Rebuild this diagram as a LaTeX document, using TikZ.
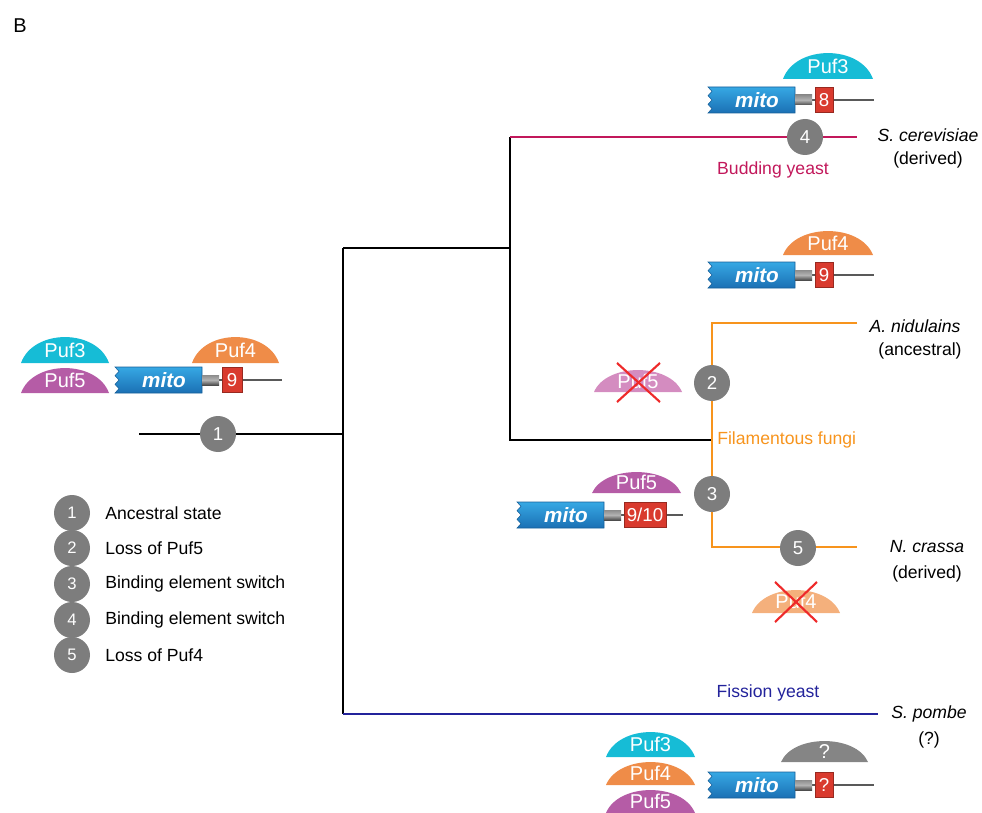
\documentclass[tikz,border=0pt]{standalone}
\usepackage{fontspec}
\setmainfont{Liberation Sans}
\definecolor{cyancap}{HTML}{16BCD6}
\definecolor{orangecap}{HTML}{EF8C48}
\definecolor{purplecap}{HTML}{B55CA6}
\definecolor{lightpurple}{HTML}{D48CC0}
\definecolor{lightorange}{HTML}{F4B07C}
\definecolor{graycap}{HTML}{858585}
\definecolor{circgray}{HTML}{7D7D7D}
\definecolor{mitotop}{HTML}{36A8E4}
\definecolor{mitobot}{HTML}{1B70B4}
\definecolor{redbox}{HTML}{D93A2E}
\definecolor{crimson}{HTML}{C2185B}
\definecolor{forange}{HTML}{F7941D}
\definecolor{navy}{HTML}{23239B}
\definecolor{xred}{HTML}{EE2A2A}
\tikzset{
  tree/.style={line width=1.6pt},
  geneline/.style={line width=1pt, color=black!65},
  numc/.style={circle, fill=circgray, text=white, minimum size=27pt, inner sep=0pt, font=\fontsize{14}{16}\selectfont},
  legc/.style={circle, fill=circgray, text=white, minimum size=27pt, inner sep=0pt, font=\fontsize{12.5}{14}\selectfont},
  lbl/.style={inner sep=0pt, font=\fontsize{13.2}{15}\selectfont},
  captext/.style={inner sep=0pt, text=white, font=\fontsize{15}{17}\selectfont},
  mitotext/.style={inner sep=0pt, text=white, font=\fontsize{15.5}{17}\selectfont\bfseries\itshape},
  redbox/.style={fill=redbox, draw=redbox!70!black, line width=0.4pt, text=white, minimum height=18.75pt, inner sep=0pt, font=\fontsize{14}{16}\selectfont},
  xline/.style={color=xred, line width=1.6pt}
}
\newcommand{\mitoG}[5]{%
  \draw[geneline] ({#1+100},#2) -- (#5,#2);
  \shade[top color=mitotop, bottom color=mitobot, draw=mitobot!85!black, line width=0.4pt]
    (#1,{#2-13}) -- ({#1+87},{#2-13}) -- ({#1+87},{#2+13}) -- (#1,{#2+13})
    -- ({#1+4},{#2+8.67}) -- (#1,{#2+4.33}) -- ({#1+4},#2) -- (#1,{#2-4.33})
    -- ({#1+4},{#2-8.67}) -- cycle;
  \node[mitotext] at ({#1+49},#2) {mito};
  \shade[top color=black!45, bottom color=black!70, middle color=black!30]
    ({#1+87},{#2-5}) rectangle ({#1+104},{#2+5});
  \node[redbox, minimum width={#3*0.75pt}] at ({#1+107+#3/2},#2) {#4};
}
\newcommand{\pufcap}[6]{%
  \fill[#5] (#1,#3) .. controls ({#1+0.14*(#2-#1)},{#3-1.33*#4}) and ({#2-0.14*(#2-#1)},{#3-1.33*#4}) .. (#2,#3) -- cycle;
  \node[captext] at ({(#1+#2)/2},{#3-0.5*#4}) {#6};
}
\begin{document}
\begin{tikzpicture}[x=0.75pt,y=-0.75pt]
\useasboundingbox (0,0) rectangle (982,813);
\node[lbl, font=\fontsize{15}{17}\selectfont] (B) at (20,26) {B};

% tree coordinates
\coordinate (r0) at (139,434);
\coordinate (r1) at (343,434);
\coordinate (rt) at (343,248);
\coordinate (rb) at (343,714);
\coordinate (a1) at (510,248);
\coordinate (a2) at (510,137);
\coordinate (a3) at (510,440);
\coordinate (be) at (857,137);
\coordinate (f1) at (712,440);
\coordinate (f2) at (712,323);
\coordinate (f3) at (712,547);
\coordinate (f4) at (857,323);
\coordinate (f5) at (857,547);
\coordinate (se) at (878,714);

\draw[tree] (r0) -- (r1);
\draw[tree] (rt) -- (rb);
\draw[tree] (rt) -- (a1);
\draw[tree] (a2) -- (a3) -- (f1);
\draw[tree, crimson] (a2) -- (be);
\draw[tree, forange] (f4) -- (f2) -- (f3) -- (f5);
\draw[tree, navy] (rb) -- (se);

% event circles
\node[numc] (c1) at (218,434) {1};
\node[numc] (c4) at (805,137) {4};
\node[numc] (c2) at (712,383) {2};
\node[numc] (c3) at (712,494) {3};
\node[numc] (c5) at (798,548) {5};

% branch labels
\node[lbl, text=crimson] (bud) at (773,170) {Budding yeast};
\node[lbl, text=forange, anchor=west] (fil) at (717,440) {Filamentous fungi};
\node[lbl, text=navy] (fis) at (768,693) {Fission yeast};

% species labels
\node[lbl] (sc1) at (928,135) {\itshape S. cerevisiae};
\node[lbl] (sc2) at (928,160) {(derived)};
\node[lbl] (an1) at (915,326) {\itshape A. nidulains};
\node[lbl] (an2) at (920,351) {(ancestral)};
\node[lbl] (nc1) at (927,547) {\itshape N. crassa};
\node[lbl] (nc2) at (927,574) {(derived)};
\node[lbl] (sp1) at (929,714) {\itshape S. pombe};
\node[lbl] (sp2) at (929,740) {(?)};

% ancestral (left)
\pufcap{21}{109}{363}{26}{cyancap}{Puf3}
\pufcap{21}{109}{393}{25}{purplecap}{Puf5}
\pufcap{192}{279}{363}{26}{orangecap}{Puf4}
\mitoG{115}{380}{20}{9}{282}

% budding yeast
\pufcap{783}{873}{79}{26}{cyancap}{Puf3}
\mitoG{708}{100}{18}{8}{874}

% Puf4 / 9
\pufcap{783}{873}{255}{24}{orangecap}{Puf4}
\mitoG{708}{275}{18}{9}{874}

% lost Puf5
\pufcap{594}{682}{392}{22}{lightpurple}{Puf5}
\draw[xline] (617,363) -- (660,402);
\draw[xline] (660,363) -- (617,402);

% switch 9/10
\pufcap{592}{681}{493}{21}{purplecap}{Puf5}
\mitoG{517}{515}{42}{9/10}{683}

% lost Puf4
\pufcap{752}{840}{613}{23}{lightorange}{Puf4}
\draw[xline] (775,582) -- (817,622);
\draw[xline] (817,582) -- (775,622);

% fission yeast
\pufcap{606}{695}{757}{25}{cyancap}{Puf3}
\pufcap{606}{695}{785}{23}{orangecap}{Puf4}
\pufcap{606}{695}{813}{23}{purplecap}{Puf5}
\pufcap{781}{868}{762}{21}{graycap}{?}
\mitoG{708}{785}{18}{?}{874}

% legend
\node[legc] (l1) at (72,513) {1};
\node[legc] (l2) at (72,548) {2};
\node[legc] (l3) at (72,584) {3};
\node[legc] (l4) at (72,620) {4};
\node[legc] (l5) at (72,655) {5};
\node[lbl, anchor=west] (t1) at (105,513) {Ancestral state};
\node[lbl, anchor=west] (t2) at (105,548) {Loss of Puf5};
\node[lbl, anchor=west] (t3) at (105,584) {Binding element switch};
\node[lbl, anchor=west] (t4) at (105,620) {Binding element switch};
\node[lbl, anchor=west] (t5) at (105,655) {Loss of Puf4};
\end{tikzpicture}
\end{document}
